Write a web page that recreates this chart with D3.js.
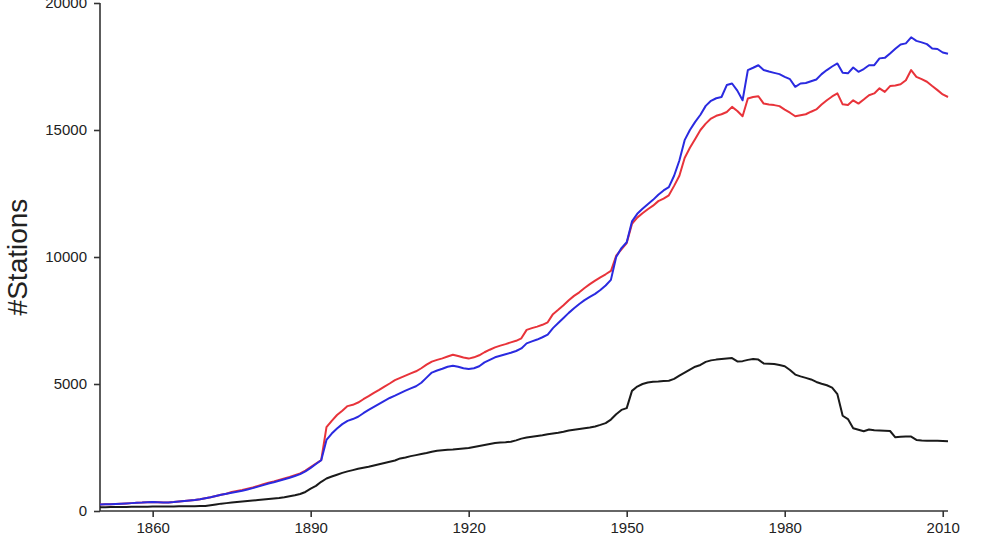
<!DOCTYPE html>
<html>
<head>
<meta charset="utf-8">
<script src="https://cdn.jsdelivr.net/npm/d3@7"></script>
<style>
  html, body { margin: 0; padding: 0; background: #fff; }
  svg { display: block; }
  text { font-family: "Liberation Sans", Arial, Helvetica, sans-serif; fill: #222; }
</style>
</head>
<body>
<svg id="chart" width="992" height="550"></svg>
<script>
const years = d3.range(1850, 2012);

const blueSeries = [
  260, 265, 270, 280, 290, 300, 310, 320, 330, 345,
  350, 340, 330, 335, 350, 370, 390, 410, 430, 460,
  500, 540, 590, 640, 680, 720, 760, 800, 850, 900,
  960, 1020, 1080, 1130, 1190, 1250, 1310, 1380, 1450, 1560,
  1700, 1850, 2000, 2800, 3050, 3250, 3420, 3550, 3620, 3710,
  3850, 3980, 4100, 4220, 4340, 4450, 4540, 4640, 4740, 4830,
  4910, 5050, 5250, 5450, 5530, 5600, 5680, 5720, 5680, 5620,
  5590, 5620, 5700, 5850, 5950, 6050, 6110, 6170, 6230, 6300,
  6400, 6600, 6680, 6750, 6840, 6940, 7200, 7400, 7600, 7800,
  7980, 8150, 8300, 8430, 8550, 8700, 8880, 9100, 10000, 10350,
  10580, 11400, 11700, 11900, 12080, 12250, 12450, 12620, 12750, 13200,
  13800, 14600, 15000, 15320, 15600, 15950, 16150, 16250, 16300, 16770,
  16830, 16550, 16170, 17360, 17450, 17550, 17360, 17300, 17250, 17200,
  17090, 17000, 16700, 16830, 16850, 16920, 16990, 17200, 17360, 17500,
  17620, 17250, 17230, 17460, 17290, 17400, 17550, 17550, 17820, 17840,
  18010, 18200, 18370, 18410, 18650, 18510, 18450, 18380, 18210, 18190,
  18050, 18000
];

const redSeries = [
  260, 265, 270, 280, 290, 300, 310, 320, 330, 345,
  350, 340, 330, 335, 350, 370, 390, 410, 430, 460,
  500, 540, 590, 640, 680, 750, 790, 830, 880, 930,
  990, 1050, 1110, 1160, 1220, 1280, 1340, 1410, 1480, 1590,
  1730, 1870, 2000, 3300, 3550, 3780, 3950, 4130, 4180, 4270,
  4400, 4520, 4650, 4770, 4900, 5020, 5150, 5240, 5330, 5420,
  5500, 5620, 5760, 5880, 5950, 6010, 6080, 6150, 6100, 6040,
  6000, 6050, 6130, 6250, 6350, 6440, 6510, 6570, 6640, 6700,
  6800, 7130, 7200, 7260, 7330, 7430, 7750, 7920, 8100, 8300,
  8470, 8610, 8780, 8930, 9070, 9200, 9320, 9450, 10050, 10300,
  10550, 11300, 11550, 11720, 11880, 12020, 12200, 12300, 12430, 12800,
  13200, 13900, 14300, 14650, 15000, 15250, 15450, 15560, 15620, 15710,
  15910, 15750, 15540, 16240, 16300, 16330, 16040, 16000, 15980, 15940,
  15800, 15680, 15540, 15580, 15620, 15720, 15810, 16000, 16170, 16320,
  16440, 16010, 15980, 16170, 16040, 16200, 16370, 16440, 16640, 16500,
  16730, 16750, 16800, 16960, 17360, 17090, 17000, 16900, 16730, 16570,
  16400, 16300
];

const blackSeries = [
  150, 150, 155, 155, 160, 160, 165, 165, 170, 170,
  175, 175, 175, 180, 180, 185, 185, 190, 190, 195,
  200, 230, 260, 290, 310, 330, 350, 370, 390, 410,
  430, 450, 470, 490, 510, 540, 580, 620, 670, 750,
  880, 990, 1150, 1280, 1360, 1430, 1500, 1560, 1610, 1660,
  1700, 1740, 1790, 1840, 1890, 1940, 1990, 2070, 2110, 2160,
  2200, 2240, 2280, 2330, 2370, 2390, 2410, 2420, 2440, 2460,
  2480, 2520, 2560, 2600, 2640, 2680, 2700, 2710, 2730, 2780,
  2850, 2890, 2920, 2950, 2980, 3020, 3050, 3080, 3120, 3170,
  3200, 3230, 3260, 3290, 3330, 3390, 3460, 3600, 3810, 3980,
  4050, 4730, 4900, 5000, 5060, 5090, 5100, 5120, 5130, 5200,
  5330, 5450, 5570, 5680, 5750, 5870, 5930, 5960, 5980, 6000,
  6020, 5890, 5900, 5950, 5980, 5960, 5810, 5800, 5790, 5750,
  5700, 5550, 5370, 5300, 5240, 5180, 5080, 5010, 4950, 4860,
  4600, 3750, 3620, 3260, 3200, 3140, 3210, 3180, 3170, 3160,
  3150, 2900, 2920, 2930, 2930, 2800, 2780, 2770, 2770, 2770,
  2760, 2750
];

const xTicks = [1860, 1890, 1920, 1950, 1980, 2010];
const yTicks = [0, 5000, 10000, 15000, 20000];
const yLabel = "#Stations";

const svg = d3.select("#chart");
const x = d3.scaleLinear().domain([1850, 2011]).range([100, 948]);
const y = d3.scaleLinear().domain([0, 20000]).range([511, 3]);

// axes
const xAxis = d3.axisBottom(x).tickValues(xTicks).tickSize(6).tickPadding(5).tickFormat(d3.format("d"));
const gx = svg.append("g").attr("transform", "translate(0,511)").call(xAxis);
gx.select(".domain").attr("d", `M${x(1850)},0H${x(2011)}`);
gx.selectAll("line, path").attr("stroke", "#333").attr("stroke-width", 1.6);
gx.selectAll("text").attr("font-size", 15).attr("fill", "#222").attr("font-family", "Liberation Sans, Arial, sans-serif");

const yAxis = d3.axisLeft(y).tickValues(yTicks).tickSize(6).tickPadding(7).tickFormat(d3.format("d"));
const gy = svg.append("g").attr("transform", "translate(100,0)").call(yAxis);
gy.select(".domain").attr("d", `M0,${y(20000)}V${y(0)}`);
gy.selectAll("line, path").attr("stroke", "#333").attr("stroke-width", 1.6);
gy.selectAll("text").attr("font-size", 15).attr("fill", "#222").attr("font-family", "Liberation Sans, Arial, sans-serif");

svg.append("text")
  .attr("transform", `translate(27,257) rotate(-90)`)
  .attr("text-anchor", "middle")
  .attr("font-size", 28)
  .attr("fill", "#111")
  .text(yLabel);

const line = d3.line().x((d, i) => x(years[i])).y(d => y(d));

const series = [
  { data: blackSeries, color: "#1a1a1a" },
  { data: redSeries, color: "#e8333a" },
  { data: blueSeries, color: "#2a2ae0" }
];

svg.selectAll("path.series")
  .data(series)
  .enter().append("path")
  .attr("class", "series")
  .attr("fill", "none")
  .attr("stroke", d => d.color)
  .attr("stroke-width", 2)
  .attr("stroke-linejoin", "round")
  .attr("d", d => line(d.data));
</script>
</body>
</html>
